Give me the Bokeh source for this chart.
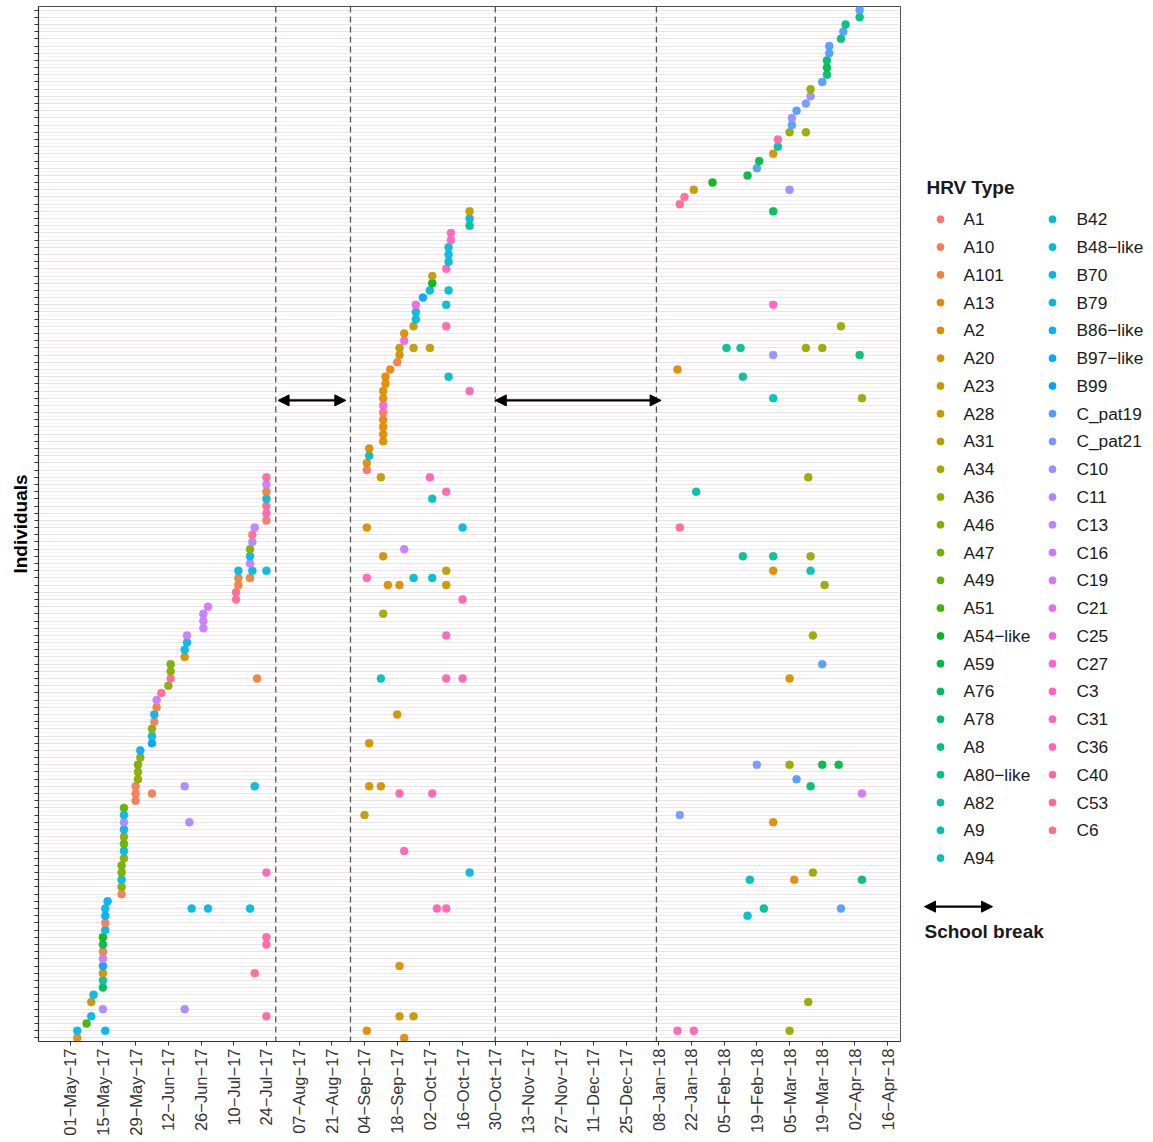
import math
import pandas as pd
from bokeh.plotting import figure
from bokeh.models import (ColumnDataSource, Range1d, FixedTicker, DatetimeTickFormatter,
                          Span, Arrow, NormalHead, CustomJSTickFormatter)
from bokeh.layouts import row
from bokeh.core.properties import value
from bokeh.embed import file_html
from bokeh.resources import INLINE

# ---------------- data ----------------
hrv_levels = ["A1", "A10", "A101", "A13", "A2", "A20", "A23", "A28", "A31", "A34", "A36",
              "A46", "A47", "A49", "A51", "A54-like", "A59", "A76", "A78", "A8", "A80-like",
              "A82", "A9", "A94", "B42", "B48-like", "B70", "B79", "B86-like", "B97-like",
              "B99", "C_pat19", "C_pat21", "C10", "C11", "C13", "C16", "C19", "C21", "C25",
              "C27", "C3", "C31", "C36", "C40", "C53", "C6"]

# one inner list per individual (row 0 = bottom)
visit_dates = [
    ["2017-05-04", "2017-09-21"],
    ["2017-05-04", "2017-05-16", "2017-09-05", "2018-01-16", "2018-01-23", "2018-03-05"],
    ["2017-05-08"],
    ["2017-05-10", "2017-07-24", "2017-09-19", "2017-09-25"],
    ["2017-05-15", "2017-06-19"],
    ["2017-05-10", "2018-03-13"],
    ["2017-05-11"],
    ["2017-05-15"],
    ["2017-05-15"],
    ["2017-05-15", "2017-07-19"],
    ["2017-05-15", "2017-09-19"],
    ["2017-05-15"],
    ["2017-05-15"],
    ["2017-05-15", "2017-07-24"],
    ["2017-05-15", "2017-07-24"],
    ["2017-05-16"],
    ["2017-05-16"],
    ["2017-05-16", "2018-02-15"],
    ["2017-05-16", "2017-06-22", "2017-06-29", "2017-07-17", "2017-10-05", "2017-10-09", "2018-02-22", "2018-03-27"],
    ["2017-05-17"],
    ["2017-05-23"],
    ["2017-05-23"],
    ["2017-05-23", "2018-02-16", "2018-03-07", "2018-04-05"],
    ["2017-05-23", "2017-07-24", "2017-10-19", "2018-03-15"],
    ["2017-05-23"],
    ["2017-05-24"],
    ["2017-05-24", "2017-09-21"],
    ["2017-05-24"],
    ["2017-05-24"],
    ["2017-05-24"],
    ["2017-05-24", "2017-06-21", "2018-02-26"],
    ["2017-05-24", "2017-09-04", "2018-01-17"],
    ["2017-05-24"],
    ["2017-05-29"],
    ["2017-05-29", "2017-06-05", "2017-09-19", "2017-10-03", "2018-04-05"],
    ["2017-05-29", "2017-06-19", "2017-07-19", "2017-09-06", "2017-09-11", "2018-03-14"],
    ["2017-05-30", "2018-03-08"],
    ["2017-05-30"],
    ["2017-05-30", "2018-02-19", "2018-03-05", "2018-03-19", "2018-03-26"],
    ["2017-05-31"],
    ["2017-05-31"],
    ["2017-06-05", "2017-09-06"],
    ["2017-06-05"],
    ["2017-06-05"],
    ["2017-06-06"],
    ["2017-06-06", "2017-09-18"],
    ["2017-06-07"],
    ["2017-06-07"],
    ["2017-06-09"],
    ["2017-06-12"],
    ["2017-06-13", "2017-07-20", "2017-09-11", "2017-10-09", "2017-10-16", "2018-03-05"],
    ["2017-06-13"],
    ["2017-06-13", "2018-03-19"],
    ["2017-06-19"],
    ["2017-06-19"],
    ["2017-06-20"],
    ["2017-06-20", "2017-10-09", "2018-03-15"],
    ["2017-06-27"],
    ["2017-06-27"],
    ["2017-06-27", "2017-09-12"],
    ["2017-06-29"],
    ["2017-07-11", "2017-10-16"],
    ["2017-07-11"],
    ["2017-07-12", "2017-09-14", "2017-09-19", "2017-10-09", "2018-03-20"],
    ["2017-07-12", "2017-07-17", "2017-09-05", "2017-09-25", "2017-10-03"],
    ["2017-07-12", "2017-07-18", "2017-07-24", "2017-10-09", "2018-02-26", "2018-03-14"],
    ["2017-07-17"],
    ["2017-07-17", "2017-09-12", "2018-02-13", "2018-02-26", "2018-03-14"],
    ["2017-07-17", "2017-09-21"],
    ["2017-07-18"],
    ["2017-07-18"],
    ["2017-07-19", "2017-09-05", "2017-10-16", "2018-01-17"],
    ["2017-07-24"],
    ["2017-07-24"],
    ["2017-07-24"],
    ["2017-07-24", "2017-10-03"],
    ["2017-07-24", "2017-10-09", "2018-01-24"],
    ["2017-07-24"],
    ["2017-07-24", "2017-09-11", "2017-10-02", "2018-03-13"],
    ["2017-09-05"],
    ["2017-09-05"],
    ["2017-09-06"],
    ["2017-09-06"],
    ["2017-09-12"],
    ["2017-09-12"],
    ["2017-09-12"],
    ["2017-09-12"],
    ["2017-09-12"],
    ["2017-09-12"],
    ["2017-09-12", "2018-02-26", "2018-04-05"],
    ["2017-09-12", "2017-10-19"],
    ["2017-09-13"],
    ["2017-09-13", "2017-10-10", "2018-02-13"],
    ["2017-09-15", "2018-01-16"],
    ["2017-09-18"],
    ["2017-09-19", "2018-02-26", "2018-04-04"],
    ["2017-09-19", "2017-09-25", "2017-10-02", "2018-02-06", "2018-02-12", "2018-03-12", "2018-03-19"],
    ["2017-09-21"],
    ["2017-09-21"],
    ["2017-09-25", "2017-10-09", "2018-03-27"],
    ["2017-09-26"],
    ["2017-09-26"],
    ["2017-09-26", "2017-10-09", "2018-02-26"],
    ["2017-09-29"],
    ["2017-10-02", "2017-10-10"],
    ["2017-10-03"],
    ["2017-10-03"],
    ["2017-10-09"],
    ["2017-10-10"],
    ["2017-10-10"],
    ["2017-10-10"],
    ["2017-10-11"],
    ["2017-10-11"],
    ["2017-10-19"],
    ["2017-10-19"],
    ["2017-10-19", "2018-02-26"],
    ["2018-01-17"],
    ["2018-01-19"],
    ["2018-01-23", "2018-03-05"],
    ["2018-01-31"],
    ["2018-02-15"],
    ["2018-02-19"],
    ["2018-02-20"],
    ["2018-02-26"],
    ["2018-02-28"],
    ["2018-02-28"],
    ["2018-03-05", "2018-03-12"],
    ["2018-03-06"],
    ["2018-03-06"],
    ["2018-03-08"],
    ["2018-03-12"],
    ["2018-03-14"],
    ["2018-03-14"],
    ["2018-03-19"],
    ["2018-03-21"],
    ["2018-03-21"],
    ["2018-03-21"],
    ["2018-03-22"],
    ["2018-03-22"],
    ["2018-03-27"],
    ["2018-03-28"],
    ["2018-03-29"],
    ["2018-04-04"],
    ["2018-04-04"],
]

visit_types = [
    ["A13", "A13"],
    ["B79", "B79", "A2", "C36", "C36", "A36"],
    ["A51"],
    ["B70", "C40", "A28", "A28"],
    ["C11", "C11"],
    ["A23", "A36"],
    ["B70"],
    ["A76"],
    ["A82"],
    ["A23", "C53"],
    ["B99", "A20"],
    ["C13"],
    ["A10"],
    ["A59", "C40"],
    ["A54-like", "C40"],
    ["B79"],
    ["A10"],
    ["B86-like", "B42"],
    ["B70", "B70", "B70", "B70", "C36", "C36", "A80-like", "C_pat19"],
    ["B86-like"],
    ["A10"],
    ["A46"],
    ["B70", "A9", "A13", "A78"],
    ["A47", "C36", "B48-like", "A36"],
    ["A47"],
    ["A46"],
    ["B70", "C36"],
    ["A49"],
    ["A46"],
    ["B79"],
    ["C11", "C11", "A20"],
    ["B79", "A28", "C_pat21"],
    ["A49"],
    ["A10"],
    ["A10", "A10", "C36", "C36", "C19"],
    ["A10", "C11", "B70", "A20", "A20", "A78"],
    ["A46", "C_pat19"],
    ["A46"],
    ["A47", "C_pat21", "A36", "A59", "A59"],
    ["A46"],
    ["B86-like"],
    ["B99", "A20"],
    ["B70"],
    ["A46"],
    ["A10"],
    ["B79", "A20"],
    ["A101"],
    ["C13"],
    ["C53"],
    ["A46"],
    ["C53", "A101", "A94", "C36", "C36", "A20"],
    ["A46"],
    ["A47", "C_pat19"],
    ["A20"],
    ["B70"],
    ["B70"],
    ["C13", "C31", "A36"],
    ["C13"],
    ["C13"],
    ["C13", "A34"],
    ["C16"],
    ["C53", "C36"],
    ["C40"],
    ["A101", "A2", "A2", "A28", "A36"],
    ["A101", "A101", "C36", "B48-like", "B48-like"],
    ["B70", "B70", "B70", "A28", "A2", "A94"],
    ["C13"],
    ["B70", "A20", "A80-like", "A80-like", "A36"],
    ["A46", "C13"],
    ["C11"],
    ["C53"],
    ["C13", "A20", "B48-like", "C53"],
    ["A1"],
    ["C36"],
    ["C53"],
    ["B70", "A94"],
    ["A101", "C36", "A82"],
    ["C13"],
    ["C40", "A28", "C36", "A36"],
    ["A1"],
    ["A2"],
    ["A94"],
    ["A2"],
    ["A2"],
    ["A2"],
    ["A2"],
    ["A2"],
    ["A1"],
    ["C25"],
    ["A2", "A94", "A36"],
    ["A2", "C36"],
    ["A2"],
    ["A2", "A94", "A80-like"],
    ["A13", "A13"],
    ["A10"],
    ["A20", "C10", "A78"],
    ["A28", "A28", "A28", "A80-like", "A80-like", "A36", "A36"],
    ["C25"],
    ["A20"],
    ["A28", "C36", "A36"],
    ["B48-like"],
    ["B48-like"],
    ["C27", "B48-like", "C31"],
    ["B99"],
    ["B48-like", "B48-like"],
    ["A54-like"],
    ["A28"],
    ["C36"],
    ["B48-like"],
    ["B48-like"],
    ["B48-like"],
    ["C31"],
    ["C31"],
    ["A80-like"],
    ["B48-like"],
    ["A28", "A76"],
    ["C53"],
    ["C53"],
    ["A28", "C10"],
    ["A54-like"],
    ["A59"],
    ["C_pat19"],
    ["A59"],
    ["A20"],
    ["A82"],
    ["C40"],
    ["A36", "A36"],
    ["C_pat19"],
    ["C10"],
    ["C_pat19"],
    ["C_pat21"],
    ["C10"],
    ["A36"],
    ["C_pat19"],
    ["A78"],
    ["A59"],
    ["A78"],
    ["C_pat19"],
    ["C_pat19"],
    ["A8"],
    ["C_pat19"],
    ["A8"],
    ["A8"],
    ["C_pat19"],
]

tick_dates = ["2017-05-01", "2017-05-15", "2017-05-29", "2017-06-12", "2017-06-26", "2017-07-10",
              "2017-07-24", "2017-08-07", "2017-08-21", "2017-09-04", "2017-09-18", "2017-10-02",
              "2017-10-16", "2017-10-30", "2017-11-13", "2017-11-27", "2017-12-11", "2017-12-25",
              "2018-01-08", "2018-01-22", "2018-02-05", "2018-02-19", "2018-03-05", "2018-03-19",
              "2018-04-02", "2018-04-16"]

break_lines = ["2017-07-28", "2017-08-29", "2017-10-30", "2018-01-07"]
school_breaks = [("2017-07-29", "2017-08-27"), ("2017-10-30", "2018-01-09")]

# ---------------- colours (ggplot2 hue palette) ----------------
def hcl_hex(h, c=100.0, l=65.0):
    hr = math.radians(h)
    U, V = c * math.cos(hr), c * math.sin(hr)
    Xn, Yn, Zn = 95.047, 100.0, 108.883
    Y = Yn * ((l + 16) / 116) ** 3 if l > 8 else Yn * l / 903.3
    den = Xn + 15 * Yn + 3 * Zn
    un, vn = 4 * Xn / den, 9 * Yn / den
    u = U / (13 * l) + un
    v = V / (13 * l) + vn
    X = Y * 9 * u / (4 * v)
    Z = Y * (12 - 3 * u - 20 * v) / (4 * v)
    x, y, z = X / 100, Y / 100, Z / 100
    r = 3.240479 * x - 1.537150 * y - 0.498535 * z
    g = -0.969256 * x + 1.875992 * y + 0.041556 * z
    b = 0.055648 * x - 0.204043 * y + 1.057311 * z

    def gam(t):
        t = 12.92 * t if t <= 0.0031308 else 1.055 * t ** (1 / 2.4) - 0.055
        return max(0, min(255, int(round(t * 255))))
    return "#%02x%02x%02x" % (gam(r), gam(g), gam(b))

n_lev = len(hrv_levels)
palette = {lev: hcl_hex(15 + 360 * i / n_lev) for i, lev in enumerate(hrv_levels)}

# ---------------- build source ----------------
xs, ys, cols, labs = [], [], [], []
for i, (ds, tt) in enumerate(zip(visit_dates, visit_types)):
    for d, t in zip(ds, tt):
        xs.append(pd.Timestamp(d))
        ys.append(i)
        cols.append(palette[t])
        labs.append(t)
src = ColumnDataSource(dict(x=xs, y=ys, color=cols, hrv=labs))
n_ind = len(visit_dates)

FONT = "Liberation Sans"
H = 1138
TOP, BOTTOM = 6, 96

def ms(d):
    return pd.Timestamp(d).value / 1e6

# ---------------- main figure ----------------
p = figure(width=908, height=H, x_axis_type="datetime",
           x_range=Range1d(ms("2017-04-17 10:00"), ms("2018-04-21 12:00")),
           y_range=Range1d(-0.5, n_ind - 0.5),
           toolbar_location=None, output_backend="svg",
           min_border_left=38, min_border_right=8, min_border_top=TOP, min_border_bottom=BOTTOM)

p.scatter("x", "y", source=src, size=8, fill_color="color", line_color="color",
          line_width=0.5, fill_alpha=0.95, line_alpha=0.95)

p.outline_line_color = "#4d4d4d"
p.outline_line_width = 1
p.background_fill_color = "white"

# x axis
p.xaxis.ticker = FixedTicker(ticks=[ms(d) for d in tick_dates])
fmt = "%d\u2212%b\u2212%y"
p.xaxis.formatter = DatetimeTickFormatter(milliseconds=fmt, seconds=fmt, minsec=fmt, minutes=fmt,
                                          hourmin=fmt, hours=fmt, days=fmt, months=fmt, years=fmt)
p.xaxis.major_label_orientation = math.pi / 2
p.xaxis.major_label_text_font = FONT
p.xaxis.major_label_text_font_size = "16.5px"
p.xaxis.major_label_text_color = "#333333"
p.xaxis.major_label_standoff = 3
p.xaxis.major_tick_out = 4
p.xaxis.major_tick_in = 0
p.xaxis.minor_tick_line_color = None
p.xaxis.axis_line_color = "#333333"
p.xaxis.major_tick_line_color = "#333333"
p.xgrid.grid_line_color = None

# y axis (one tick per individual, no tick labels)
p.yaxis.ticker = FixedTicker(ticks=list(range(n_ind)),
                             minor_ticks=[i + 0.5 for i in range(-1, n_ind)])
p.yaxis.formatter = CustomJSTickFormatter(code="return '';")
p.yaxis.major_label_standoff = 0
p.yaxis.major_tick_out = 4
p.yaxis.major_tick_in = 0
p.yaxis.major_tick_line_width = 1.2
p.yaxis.major_tick_line_color = "#333333"
p.yaxis.minor_tick_line_color = None
p.yaxis.axis_line_color = "#333333"
p.yaxis.axis_line_width = 1.2
p.yaxis.axis_label = "Individuals"
p.yaxis.axis_label_text_font = FONT
p.yaxis.axis_label_text_font_style = "bold"
p.yaxis.axis_label_text_font_size = "19px"
p.yaxis.axis_label_text_color = "black"
p.yaxis.axis_label_standoff = 4
p.ygrid.ticker = p.yaxis[0].ticker
p.ygrid.grid_line_color = "#ece3e6"
p.ygrid.grid_line_width = 1.2
p.ygrid.minor_grid_line_color = "#f4eff1"
p.ygrid.minor_grid_line_width = 0.8

for d in break_lines:
    p.add_layout(Span(location=ms(d), dimension="height", line_color="#555555",
                      line_dash="6 4", line_width=1.3))

arrow_row = 88.7
for a, b in school_breaks:
    p.add_layout(Arrow(start=NormalHead(size=11, fill_color="black", line_color="black"),
                       end=NormalHead(size=11, fill_color="black", line_color="black"),
                       x_start=ms(a), y_start=arrow_row, x_end=ms(b), y_end=arrow_row,
                       line_width=2.2, line_color="black"))

# ---------------- legend figure (frame matches the main frame; y in page pixels) ----------------
LW = 237
lg = figure(width=LW, height=H, x_range=Range1d(0, LW), y_range=Range1d(H - BOTTOM, TOP),
            toolbar_location=None, output_backend="svg", x_axis_location=None,
            y_axis_location=None, min_border_left=0, min_border_right=0,
            min_border_top=TOP, min_border_bottom=BOTTOM)
lg.grid.visible = False
lg.outline_line_color = None

n_col1 = 24
step = 27.8
lx_dot, ly_dot, lcol, lx_txt, ltxt = [], [], [], [], []
for i, lev in enumerate(hrv_levels):
    c, r = (0, i) if i < n_col1 else (1, i - n_col1)
    lx_dot.append(32 + 112 * c)
    ly_dot.append(219 + step * r)
    lcol.append(palette[lev])
    lx_txt.append(55 + 113 * c)
    ltxt.append(lev.replace("-", "\u2212"))

lg.scatter(lx_dot, ly_dot, size=7, color=lcol)
lg.text(lx_txt, ly_dot, text=ltxt, text_font=value(FONT), text_font_size="17.3px",
        text_baseline="middle", text_align="left", text_color="#1a1a1a")
lg.text([18], [187], text=["HRV Type"], text_font=value(FONT), text_font_size="19px",
        text_font_style="bold", text_baseline="middle", text_align="left", text_color="#1a1a1a")
lg.add_layout(Arrow(start=NormalHead(size=11, fill_color="black", line_color="black"),
                    end=NormalHead(size=11, fill_color="black", line_color="black"),
                    x_start=16, y_start=907, x_end=84, y_end=907,
                    line_width=2.2, line_color="black"))
lg.text([16], [932], text=["School break"], text_font=value(FONT), text_font_size="19px",
        text_font_style="bold", text_baseline="middle", text_align="left", text_color="#1a1a1a")

layout = row(p, lg)
open("out.html", "w").write(file_html(layout, INLINE))
